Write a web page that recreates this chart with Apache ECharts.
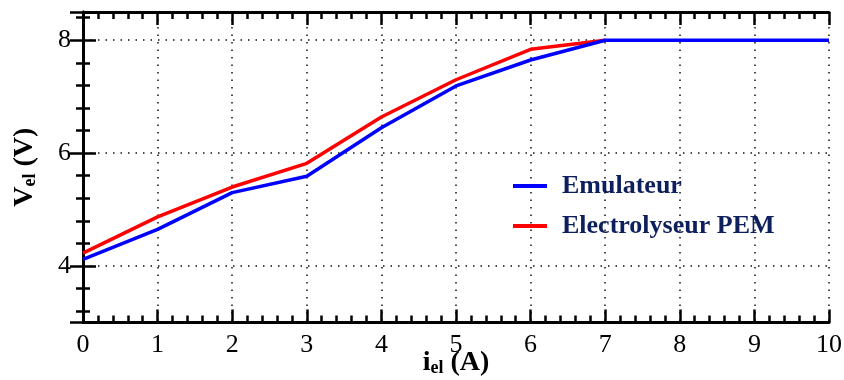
<!DOCTYPE html>
<html>
<head>
<meta charset="utf-8">
<script src="https://cdn.jsdelivr.net/npm/echarts@6/dist/echarts.min.js"></script>
<style>
html,body{margin:0;padding:0;background:#fff;}
#chart{width:844px;height:380px;}
</style>
</head>
<body>
<div id="chart"></div>
<script>
const currents = [0, 1, 2, 3, 4, 5, 6, 7, 8, 9, 10];
const emulateur = [4.12, 4.65, 5.30, 5.59, 6.45, 7.19, 7.65, 8.0, 8.0, 8.0, 8.0];
const electrolyseur = [4.23, 4.87, 5.40, 5.82, 6.64, 7.30, 7.84, 8.0];
const yTickLabels = [4, 6, 8];
const seriesNames = ['Emulateur', 'Electrolyseur PEM'];

const pairs = (ys) => ys.map((v, i) => [currents[i], v]);
const FONT = 'Liberation Serif';

const chart = echarts.init(document.getElementById('chart'), null, {renderer: 'canvas'});

const axisLine = {show: true, lineStyle: {color: '#000', width: 3}};
const tick = {show: true, inside: true, length: 13, lineStyle: {color: '#000', width: 2.5}};
const minor = {show: true, splitNumber: 5, length: 7, lineStyle: {color: '#000', width: 2.5}};
const gridDots = {show: true, lineStyle: {color: '#111', width: 1.5, type: [1.5, 6]}};

const titleRich = {
  b: {fontFamily: FONT, fontWeight: 'bold', fontSize: 28, color: '#000'},
  s: {fontFamily: FONT, fontWeight: 'bold', fontSize: 18, color: '#000', padding: [11, 0, 0, 0]}
};

chart.setOption({
  animation: false,
  backgroundColor: '#fff',
  grid: {left: 83, right: 15, top: 12, bottom: 57.5, containLabel: false, outerBoundsMode: 'none'},
  legend: {
    orient: 'vertical',
    left: 513,
    top: 171,
    padding: 0,
    icon: 'rect',
    itemWidth: 34,
    itemHeight: 4,
    itemGap: 10,
    data: seriesNames,
    textStyle: {fontFamily: FONT, fontWeight: 'bold', fontSize: 26, color: '#0d1f5c', lineHeight: 30, padding: [0, 0, 0, 10]}
  },
  xAxis: [
    {
      type: 'value', position: 'bottom', min: 0, max: 10, interval: 1,
      axisLine, axisTick: tick, minorTick: minor, splitLine: gridDots,
      axisLabel: {fontFamily: FONT, fontSize: 26, color: '#000', margin: 10},
      name: '{b|i}{s|el}{b| (A)}', nameLocation: 'middle', nameGap: 26, nameMoveOverlap: false,
      nameTextStyle: {rich: titleRich}
    },
    {
      type: 'value', position: 'top', min: 0, max: 10, interval: 1,
      axisLine, axisTick: tick, minorTick: minor,
      axisLabel: {show: false}, splitLine: {show: false}
    }
  ],
  yAxis: [
    {
      type: 'value', position: 'left', min: 3, max: 8.5, splitNumber: 3, minInterval: 2, maxInterval: 2,
      axisLine, axisTick: tick, minorTick: minor, splitLine: gridDots,
      axisLabel: {
        fontFamily: FONT, fontSize: 26, color: '#000', margin: 12,
        formatter: (v) => yTickLabels.includes(v) ? String(v) : ''
      },
      name: '{b|V}{s|el}{b| (V)}', nameLocation: 'middle', nameGap: 44, nameRotate: 90,
      nameTextStyle: {rich: titleRich}
    },
    {
      type: 'value', position: 'right', min: 3, max: 8.5, splitNumber: 3, minInterval: 2, maxInterval: 2,
      axisLine, axisTick: tick, minorTick: minor,
      axisLabel: {show: false}, splitLine: {show: false}
    }
  ],
  series: [
    {
      name: seriesNames[1], type: 'line', xAxisIndex: 0, yAxisIndex: 0,
      data: pairs(electrolyseur), symbol: 'none', z: 3,
      lineStyle: {color: '#ff0000', width: 3.5}, itemStyle: {color: '#ff0000'}
    },
    {
      name: seriesNames[0], type: 'line', xAxisIndex: 0, yAxisIndex: 0,
      data: pairs(emulateur), symbol: 'none', z: 4,
      lineStyle: {color: '#0000ff', width: 3.5}, itemStyle: {color: '#0000ff'}
    }
  ]
});
</script>
</body>
</html>
